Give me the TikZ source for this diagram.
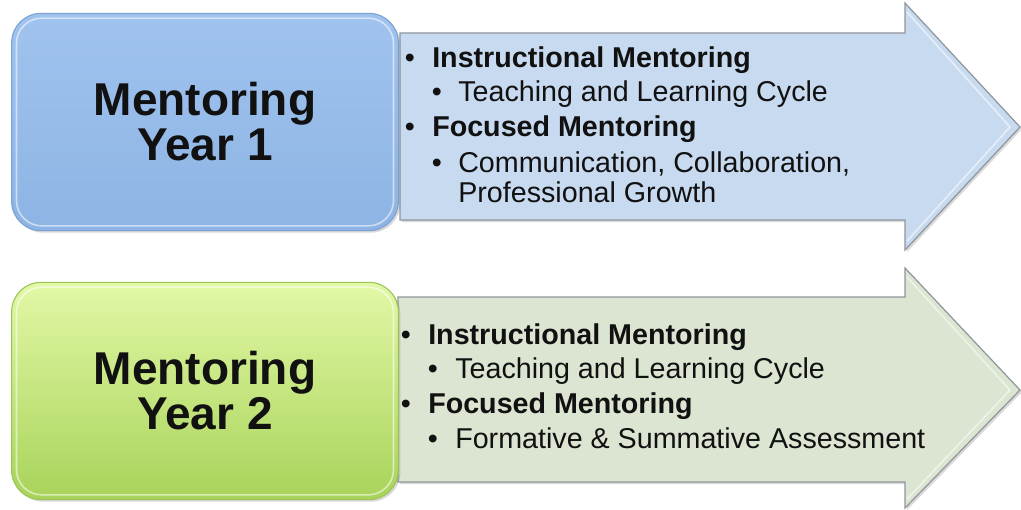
\documentclass[tikz,border=0pt]{standalone}
\usepackage{fontspec}
\setmainfont{Liberation Sans}
\usetikzlibrary{shadows}
\definecolor{bluetop}{HTML}{A0C3EE}
\definecolor{bluebot}{HTML}{8DB4E4}
\definecolor{blueedge}{HTML}{7BA2D4}
\definecolor{bluearrow}{HTML}{C8DAF0}
\definecolor{greentop}{HTML}{E2F8A6}
\definecolor{greenbot}{HTML}{A8D35A}
\definecolor{greenedge}{HTML}{9BC455}
\definecolor{greenarrow}{HTML}{DBE5D1}
\definecolor{arrowedge}{HTML}{8F969C}
\definecolor{txt}{HTML}{111111}
\tikzset{
  yearbox/.style={rounded corners=22pt, minimum width=290pt, minimum height=163pt,
    align=center, inner sep=0pt, text=txt,
    font=\fontsize{34.5}{33.75}\selectfont\bfseries,
    drop shadow={opacity=0.3, shadow xshift=1.5pt, shadow yshift=-1.5pt}},
  arrowshape/.style={draw=arrowedge, line width=0.9pt, line join=miter,
    drop shadow={opacity=0.3, shadow xshift=1.5pt, shadow yshift=-1.5pt}},
  bevel/.style={draw=white, line width=1.2pt, opacity=0.55},
  head/.style={anchor=base west, inner sep=0pt, text=txt, font=\fontsize{21.5}{26}\selectfont\bfseries},
  item/.style={anchor=base west, inner sep=0pt, text=txt, font=\fontsize{21.5}{26}\selectfont},
  dot/.style={anchor=base, inner sep=0pt, text=txt, font=\fontsize{21.5}{26}\selectfont},
}
\begin{document}
\begin{tikzpicture}[x=0.75pt, y=-0.75pt]
\useasboundingbox (0,0) rectangle (1021,510);
% top arrow
\path[arrowshape, fill=bluearrow] (400,33) -- (905,33) -- (905,3) -- (1020,127) -- (905,250) -- (905,220) -- (400,220) -- cycle;
\draw[bevel] (907,12) -- (1010,127) -- (907,241);
% bottom arrow
\path[arrowshape, fill=greenarrow] (398,297) -- (905,297) -- (905,268) -- (1020,390) -- (905,508) -- (905,482) -- (398,482) -- cycle;
\draw[bevel] (907,277) -- (1010,390) -- (907,499);
% boxes
\node[yearbox, draw=blueedge, line width=0.8pt, top color=bluetop, bottom color=bluebot] (y1) at (205,122) {Mentoring\\Year 1};
\draw[bevel, rounded corners=19pt] ([shift={(4pt,-4pt)}]y1.north west) rectangle ([shift={(-4pt,4pt)}]y1.south east);
\node[yearbox, draw=greenedge, line width=0.8pt, top color=greentop, bottom color=greenbot] (y2) at (205,391) {Mentoring\\Year 2};
\draw[bevel, rounded corners=19pt] ([shift={(4pt,-4pt)}]y2.north west) rectangle ([shift={(-4pt,4pt)}]y2.south east);
% top texts
\node[dot] (d11) at (410,68) {•};
\node[head] (h11) at (432,68) {Instructional Mentoring};
\node[dot] (d12) at (437,102) {•};
\node[item] (i12) at (458,102) {Teaching and Learning Cycle};
\node[dot] (d13) at (410,137) {•};
\node[head] (h13) at (432,137) {Focused Mentoring};
\node[dot] (d14) at (437,172) {•};
\node[item] (i14) at (458,172) {Communication, Collaboration,};
\node[item] (i15) at (458,202) {Professional Growth};
% bottom texts
\node[dot] (d21) at (406,344) {•};
\node[head] (h21) at (428,344) {Instructional Mentoring};
\node[dot] (d22) at (433,378) {•};
\node[item] (i22) at (455,378) {Teaching and Learning Cycle};
\node[dot] (d23) at (406,413) {•};
\node[head] (h23) at (428,413) {Focused Mentoring};
\node[dot] (d24) at (433,448) {•};
\node[item] (i24) at (455,448) {Formative \& Summative Assessment};
\end{tikzpicture}
\end{document}
